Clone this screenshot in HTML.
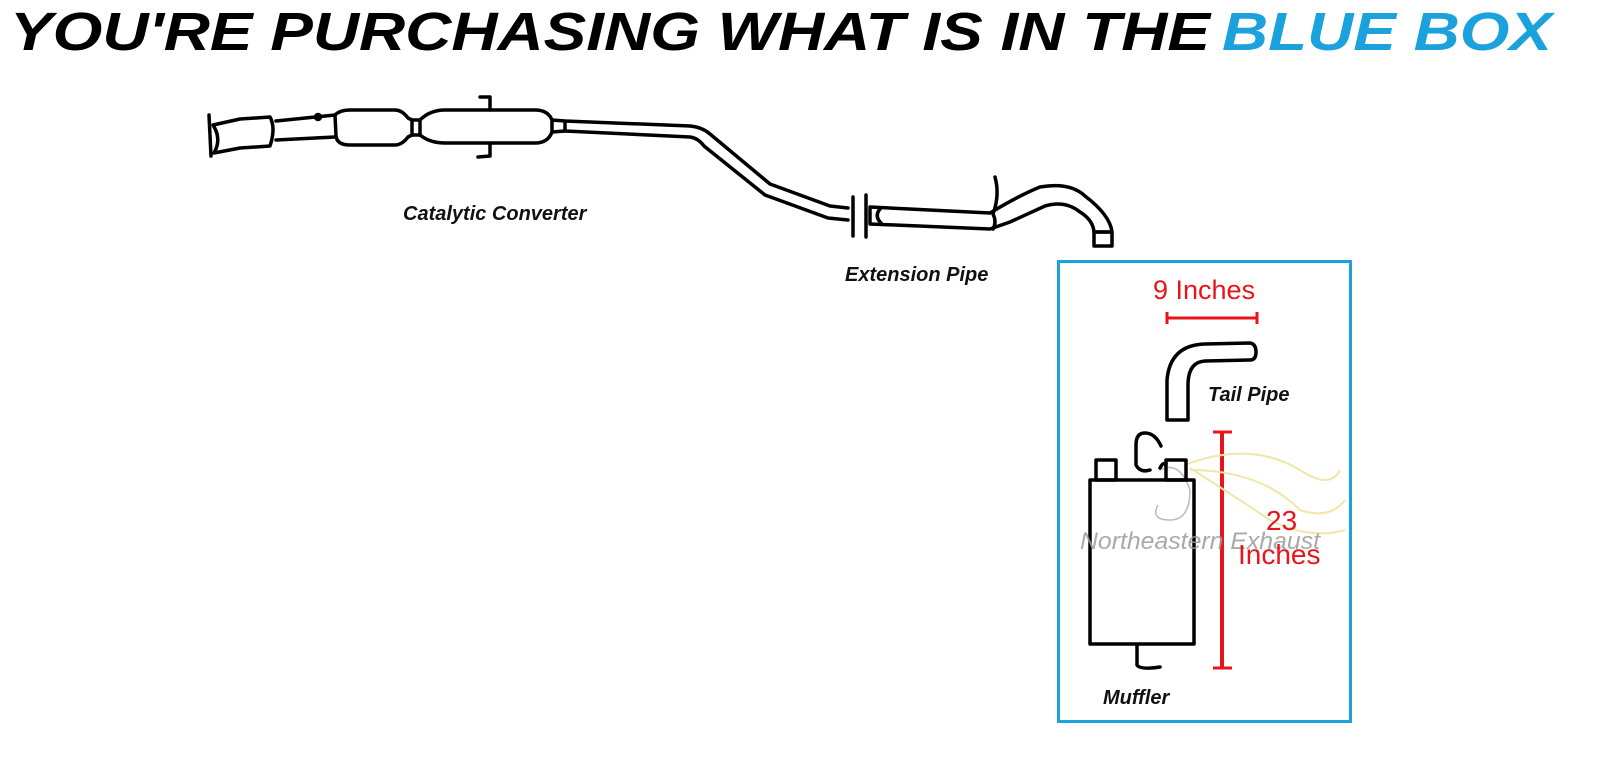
<!DOCTYPE html>
<html><head><style>
html,body{margin:0;padding:0;background:#fff;}
svg{display:block;}
</style></head><body>
<svg width="1600" height="777" viewBox="0 0 1600 777" xmlns="http://www.w3.org/2000/svg" font-family="Liberation Sans, sans-serif">
<text x="10" y="50" font-size="54" font-weight="bold" font-style="italic" fill="#000" textLength="1200" lengthAdjust="spacingAndGlyphs">YOU'RE PURCHASING WHAT IS IN THE</text>
<text x="1222" y="50" font-size="54" font-weight="bold" font-style="italic" fill="#1ba1dc" textLength="330" lengthAdjust="spacingAndGlyphs">BLUE BOX</text>

<g fill="none" stroke="#000" stroke-width="3.5" stroke-linejoin="round" stroke-linecap="round">
<line x1="209" y1="115" x2="211" y2="156"/>
<path d="M213 125 L240 119 L270 117 Q276 128 270 146 L240 148 L214 153 Q222 139 213 125Z"/>
<path d="M276 121 L335 115 M276 140 L335 137"/>
<circle cx="318" cy="117" r="2.5"/>
<path d="M335 115 Q340 110 350 110 L395 110 Q402 110 408 118 L412 120 L412 135 L408 137 Q402 145 395 145 L350 145 Q337 145 336 136Z"/>
<path d="M412 120 L420 120 M412 135 L420 135"/>
<path d="M420 120 Q430 110 445 110 L535 110 Q548 110 552 120 L552 132 Q548 143 535 143 L445 143 Q430 143 420 135Z"/>
<path d="M480 97 L490 97 L490 110 M490 143 L490 156 L478 157"/>
<path d="M552 120 L565 121 L565 131 L552 132 M565 121 L690 126 Q702 127 710 134 L770 184 L830 206 L848 208 M565 131 L690 137 Q698 138 704 146 L765 195 L828 218 L848 220"/>
<line x1="853" y1="197" x2="853" y2="236"/>
<line x1="866" y1="195" x2="866" y2="237"/>
<path d="M870 207 L990 213 Q1020 195 1040 187 Q1070 182 1085 196 Q1110 215 1112 232 L1094 232 Q1093 220 1080 212 Q1065 200 1045 206 L1010 222 L990 229 L870 224 Z"/>
<path d="M880 209 Q874 216 881 223"/>
<path d="M995 177 Q1000 195 993 214 Q997 222 993 229"/>
<rect x="1094" y="232" width="18" height="14"/>
</g>

<g font-weight="bold" font-style="italic" font-size="20" fill="#111">
<text x="403" y="220">Catalytic Converter</text>
<text x="845" y="281">Extension Pipe</text>
<text x="1208" y="401">Tail Pipe</text>
<text x="1103" y="704">Muffler</text>
</g>

<rect x="1058.5" y="261.5" width="292" height="460" fill="none" stroke="#1ba1dc" stroke-width="3"/>

<text x="1153" y="299" font-size="27" fill="#e8141a">9 Inches</text>
<g stroke="#e8141a" stroke-width="3" fill="none">
<line x1="1167" y1="318" x2="1257" y2="318"/>
<line x1="1167" y1="312" x2="1167" y2="324"/>
<line x1="1257" y1="312" x2="1257" y2="324"/>
<line x1="1222" y1="432" x2="1222" y2="668" stroke-width="4"/>
<line x1="1213" y1="432" x2="1232" y2="432"/>
<line x1="1213" y1="668" x2="1232" y2="668"/>
</g>

<g fill="none" stroke="#f0e6a8" stroke-width="2">
<path d="M1185 465 Q1250 440 1300 470 Q1330 490 1340 470"/>
<path d="M1190 470 Q1260 470 1300 510 Q1330 520 1345 500"/>
<path d="M1190 468 Q1240 500 1270 520 Q1310 540 1345 530"/>
</g>
<path d="M1160 470 Q1180 460 1190 490 Q1190 520 1170 520 Q1150 520 1158 505" fill="none" stroke="#bbb" stroke-width="1.5"/>

<g fill="none" stroke="#000" stroke-width="3.5" stroke-linejoin="round" stroke-linecap="round">
<path d="M1167 420 L1167 380 Q1170 345 1205 344 L1250 343 Q1256 344 1256 352 Q1256 360 1250 360 L1205 361 Q1188 362 1188 385 L1188 420 Z"/>
<rect x="1096" y="460" width="20" height="20"/>
<rect x="1166" y="460" width="20" height="20"/>
<rect x="1090" y="480" width="104" height="164"/>
<path d="M1161 446 Q1155 433 1145 433 Q1136 433 1136 445 L1136 465 Q1140 473 1150 470"/>
<path d="M1160 468 Q1163 462 1166 464"/>
<path d="M1137 645 L1137 665 Q1140 670 1160 667"/>
</g>

<text x="1080" y="549" font-size="24" font-style="italic" fill="#9a9a9a" fill-opacity="0.85" textLength="240" lengthAdjust="spacingAndGlyphs">Northeastern Exhaust</text>
<text x="1266" y="530" font-size="28" fill="#e8141a">23</text>
<text x="1238" y="564" font-size="28" fill="#e8141a">Inches</text>
</svg>
</body></html>
